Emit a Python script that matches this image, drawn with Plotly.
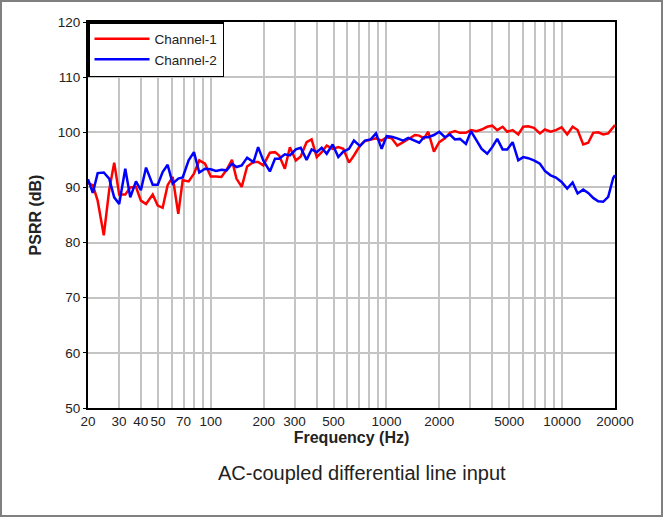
"""
PSRR vs frequency, AC-coupled differential line input.
"""

import math

import plotly.graph_objects as go

# frequency points (Hz) shared by both channels
freq_hz = [
    20, 21.3, 22.7, 24.6, 26.4, 28.2, 30.1, 32.6, 34.8, 37.5,
    40, 42.8, 46.7, 49.9, 53.2, 56.8, 60.7, 65.3, 69.2, 74.8,
    80.2, 86, 92.7, 100, 107, 115, 123, 132, 140, 150,
    161, 175, 186, 199, 217, 232, 245, 264, 282, 305,
    325, 351, 375, 401, 428, 457, 494, 532, 568, 612,
    653, 707, 754, 813, 872, 939, 1003, 1071, 1152, 1246,
    1331, 1453, 1537, 1635, 1729, 1863, 1997, 2152, 2298, 2454,
    2620, 2834, 3026, 3262, 3482, 3746, 4000, 4272, 4586, 4870,
    5228, 5626, 6008, 6412, 6910, 7476, 7980, 8600, 9220, 9934,
    10690, 11474, 12252, 13184, 14078, 15030, 16048, 17134, 18296, 19536,
    20000,
]

channel_1 = [
    90.8, 90.4, 87.6, 81.3, 89.5, 94.5, 88.7, 88.7, 90.0, 90.1,
    87.6, 87.0, 88.7, 86.7, 86.3, 90.4, 91.9, 85.2, 91.3, 91.1,
    92.5, 94.9, 94.3, 92.0, 92.0, 91.9, 93.2, 95.0, 91.6, 90.1,
    93.8, 94.6, 94.6, 94.0, 96.3, 96.4, 95.8, 93.4, 97.3, 94.9,
    95.6, 98.2, 98.7, 95.5, 96.4, 97.6, 97.0, 97.3, 97.0, 94.5,
    95.8, 97.6, 98.4, 98.7, 98.9, 98.5, 99.1, 98.9, 97.6, 98.2,
    98.7, 99.5, 99.4, 98.9, 100.1, 96.5, 98.2, 98.9, 99.9, 100.2,
    99.9, 99.9, 100.4, 100.2, 100.5, 101.0, 101.2, 100.4, 101.0, 100.1,
    100.4, 99.6, 101.0, 101.1, 100.8, 99.8, 100.5, 100.1, 100.4, 100.9,
    99.6, 101.0, 100.4, 97.8, 98.1, 99.9, 100.0, 99.6, 99.8, 101.0,
    101.3,
]

channel_2 = [
    91.5, 89.0, 92.6, 92.7, 91.6, 88.2, 87.0, 93.4, 88.2, 91.1,
    89.5, 93.6, 90.5, 90.5, 92.8, 94.1, 90.7, 91.6, 91.8, 94.9,
    96.4, 92.7, 93.4, 93.3, 93.0, 93.2, 93.1, 94.3, 93.7, 94.0,
    95.4, 94.6, 97.3, 94.9, 92.9, 95.2, 95.2, 96.0, 95.8, 96.9,
    97.2, 95.0, 96.9, 96.4, 97.2, 96.1, 97.8, 95.5, 96.5, 97.0,
    98.5, 97.5, 98.5, 98.7, 99.8, 97.0, 99.3, 99.2, 98.9, 98.5,
    99.0, 98.5, 98.1, 99.1, 99.1, 99.5, 100.1, 99.1, 99.6, 98.7,
    98.8, 97.9, 100.2, 98.5, 97.0, 96.1, 97.3, 98.8, 96.9, 96.9,
    98.2, 94.9, 95.5, 95.3, 94.9, 94.3, 93.0, 92.2, 91.8, 91.0,
    89.8, 90.9, 88.9, 89.6, 89.0, 88.1, 87.5, 87.4, 88.3, 91.7,
    92.2,
]

# every vertical grid position, with labels only on some of them
grid_vals = [20, 30, 40, 50, 60, 70, 80, 90,
             100, 200, 300, 400, 500, 600, 700, 800, 900,
             1000, 2000, 3000, 4000, 5000, 6000, 7000, 8000, 9000,
             10000, 20000]
labelled = [20, 30, 40, 50, 70, 100, 200, 300, 500, 1000, 2000, 5000, 10000, 20000]
grid_text = [str(v) if v in labelled else "" for v in grid_vals]

W, H = 663, 517
M = dict(l=88, r=48, t=22, b=109)
FONT = "Arial, Liberation Sans, sans-serif"

fig = go.Figure()

fig.add_trace(go.Scatter(
    x=freq_hz, y=channel_1, mode="lines", name="Channel-1",
    line=dict(color="#ff0000", width=2.5),
))
fig.add_trace(go.Scatter(
    x=freq_hz, y=channel_2, mode="lines", name="Channel-2",
    line=dict(color="#0000ff", width=2.5),
))

fig.update_layout(
    width=W,
    height=H,
    margin=M,
    paper_bgcolor="white",
    plot_bgcolor="white",
    font=dict(family=FONT, size=13.5, color="#222222"),
    legend=dict(
        x=0, y=1, xanchor="left", yanchor="top",
        bgcolor="white", bordercolor="black", borderwidth=1.5,
        font=dict(size=13.5, color="#222222"),
        itemwidth=55,
        tracegroupgap=0,
    ),
)

fig.update_xaxes(
    type="log",
    range=[math.log10(20), math.log10(20000)],
    tickvals=grid_vals,
    ticktext=grid_text,
    tickangle=0,
    showgrid=True, gridcolor="#c4c4c4", gridwidth=1.5,
    showline=True, linecolor="black", linewidth=2, mirror=True,
    ticks="", zeroline=False,
    title=dict(text="<b>Frequency (Hz)</b>", font=dict(size=16), standoff=2),
)

fig.update_yaxes(
    range=[50, 120],
    dtick=10,
    showgrid=True, gridcolor="#c4c4c4", gridwidth=1.5,
    showline=True, linecolor="black", linewidth=2, mirror=True,
    ticks="outside", ticklen=3, tickcolor="black", zeroline=False,
    title=dict(text="<b>PSRR (dB)</b>", font=dict(size=16), standoff=12),
)

plot_h = H - M["t"] - M["b"]
plot_w = W - M["l"] - M["r"]

# caption under the axis title
fig.add_annotation(
    text="AC-coupled differential line input",
    xref="paper", yref="paper", x=0.52, y=-65 / plot_h,
    xanchor="center", yanchor="middle", showarrow=False,
    font=dict(size=20, color="#222222"),
)

# thin grey border round the whole picture
fig.add_shape(
    type="rect", xref="paper", yref="paper",
    x0=-(M["l"] - 1) / plot_w, x1=1 + (M["r"] - 1) / plot_w,
    y0=-(M["b"] - 1) / plot_h, y1=1 + (M["t"] - 1) / plot_h,
    line=dict(color="#808080", width=2), layer="below",
)

fig.write_html(
    "out.html",
    config={"displayModeBar": False},
    post_script="document.body.style.margin='0';",
)
